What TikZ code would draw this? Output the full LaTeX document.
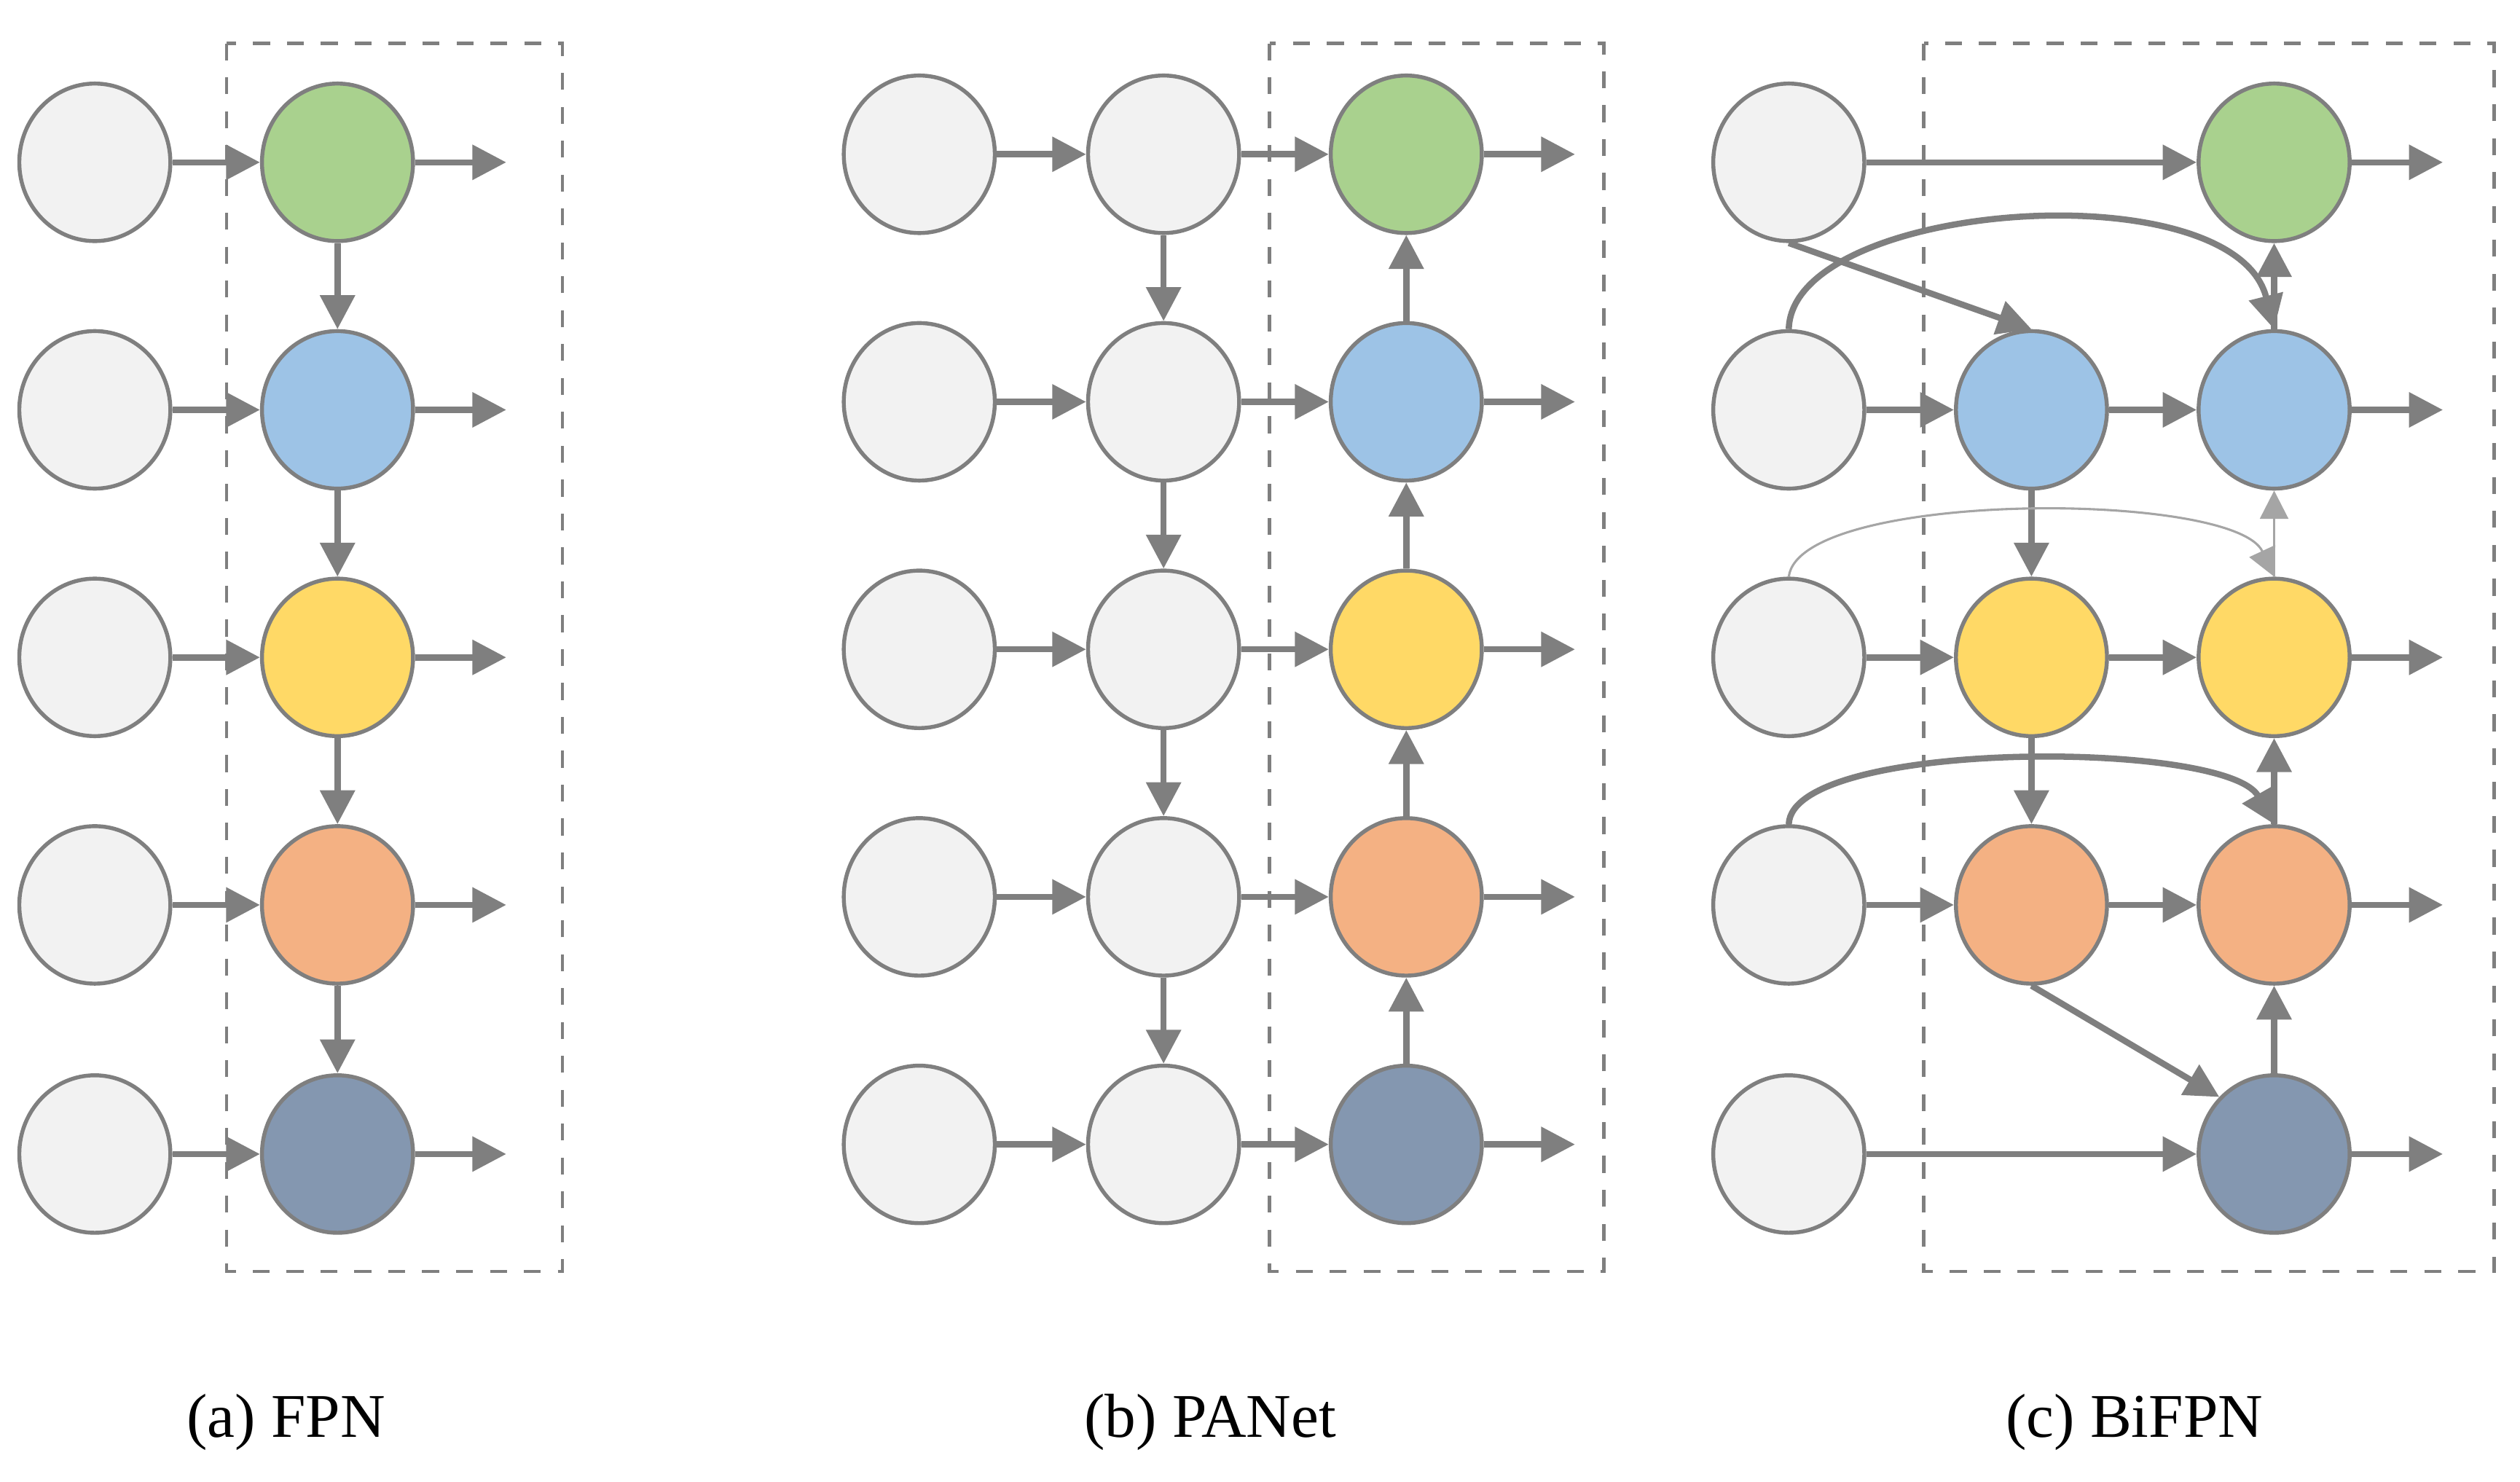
\documentclass[tikz,border=0pt]{standalone}
\usepackage{fontspec}
\setmainfont{Liberation Serif}
\usetikzlibrary{shapes.geometric,arrows.meta}
\definecolor{lg}{HTML}{F2F2F2}
\definecolor{gn}{HTML}{A9D18E}
\definecolor{bl}{HTML}{9DC3E6}
\definecolor{yl}{HTML}{FFD966}
\definecolor{og}{HTML}{F4B183}
\definecolor{dk}{HTML}{8497B0}
\definecolor{ed}{HTML}{7F7F7F}
\begin{document}
\begin{tikzpicture}[
  nd/.style={ellipse,draw=ed,line width=0.7pt,minimum width=0.94cm,minimum height=0.98cm,inner sep=0pt},
  ar/.style={draw=ed,line width=1.1pt,-{Triangle[length=6pt,width=6pt]}},
  thin ar/.style={draw=ed!70,line width=0.4pt,-{Triangle[length=5pt,width=5pt]}},
  box/.style={draw=ed,dashed,line width=0.6pt},
  lab/.style={font=\fontsize{11}{13}\selectfont}
]
\useasboundingbox (0,0) rectangle (15.68,-9.22);
\def\cols{{"lg"}}
% ---------- FPN ----------
\draw[box] (1.41,-0.27) rectangle (3.50,-7.91);
\foreach \i/\y/\c in {1/1.01/gn,2/2.55/bl,3/4.09/yl,4/5.63/og,5/7.18/dk}{
  \node[nd,fill=lg] (fa\i) at (0.59,-\y) {};
  \node[nd,fill=\c] (fb\i) at (2.10,-\y) {};
  \coordinate (fo\i) at (3.15,-\y);
  \draw[ar] (fa\i) -- (fb\i);
  \draw[ar] (fb\i) -- (fo\i);
}
\foreach \i/\j in {1/2,2/3,3/4,4/5}{\draw[ar] (fb\i) -- (fb\j);}
\node[lab] (la) at (1.78,-8.85) {(a) FPN};
% ---------- PANet ----------
\draw[box] (7.90,-0.27) rectangle (9.98,-7.91);
\foreach \i/\y/\c in {1/0.96/gn,2/2.50/bl,3/4.04/yl,4/5.58/og,5/7.12/dk}{
  \node[nd,fill=lg] (pa\i) at (5.72,-\y) {};
  \node[nd,fill=lg] (pb\i) at (7.24,-\y) {};
  \node[nd,fill=\c] (pc\i) at (8.75,-\y) {};
  \coordinate (po\i) at (9.80,-\y);
  \draw[ar] (pa\i) -- (pb\i);
  \draw[ar] (pb\i) -- (pc\i);
  \draw[ar] (pc\i) -- (po\i);
}
\foreach \i/\j in {1/2,2/3,3/4,4/5}{\draw[ar] (pb\i) -- (pb\j); \draw[ar] (pc\j) -- (pc\i);}
\node[lab] (lb) at (7.53,-8.85) {(b) PANet};
% ---------- BiFPN ----------
\draw[box] (11.97,-0.27) rectangle (15.52,-7.91);
\foreach \i/\y in {1/1.01,2/2.55,3/4.09,4/5.63,5/7.18}{
  \node[nd,fill=lg] (ba\i) at (11.13,-\y) {};
  \coordinate (bo\i) at (15.20,-\y);
}
\node[nd,fill=gn] (bc1) at (14.15,-1.01) {};
\node[nd,fill=bl] (bc2) at (14.15,-2.55) {};
\node[nd,fill=yl] (bc3) at (14.15,-4.09) {};
\node[nd,fill=og] (bc4) at (14.15,-5.63) {};
\node[nd,fill=dk] (bc5) at (14.15,-7.18) {};
\node[nd,fill=bl] (bb2) at (12.64,-2.55) {};
\node[nd,fill=yl] (bb3) at (12.64,-4.09) {};
\node[nd,fill=og] (bb4) at (12.64,-5.63) {};
\foreach \i in {1,...,5}{\draw[ar] (bc\i) -- (bo\i);}
\draw[ar] (ba1) -- (bc1);
\draw[ar] (ba5) -- (bc5);
\foreach \i in {2,3,4}{\draw[ar] (ba\i) -- (bb\i); \draw[ar] (bb\i) -- (bc\i);}
\draw[ar] (bb2) -- (bb3);
\draw[ar] (bb3) -- (bb4);
\draw[ar] (bc2) -- (bc1);
\draw[thin ar] (bc3) -- (bc2);
\draw[ar] (bc4) -- (bc3);
\draw[ar] (bc5) -- (bc4);
\draw[ar] (ba1.south) -- (bb2.north);
\draw[ar] (bb4.south) -- (bc5.north west);
\draw[ar] (ba2.north) .. controls (11.15,-1.25) and (13.9,-1.05) .. (bc2.north);
\draw[thin ar] (ba3.north) .. controls (11.2,-3.05) and (13.9,-3.05) .. (bc3.north);
\draw[ar] (ba4.north) .. controls (11.15,-4.6) and (13.85,-4.6) .. (bc4.north);
\node[lab] (lc) at (13.28,-8.85) {(c) BiFPN};
\end{tikzpicture}
\end{document}
